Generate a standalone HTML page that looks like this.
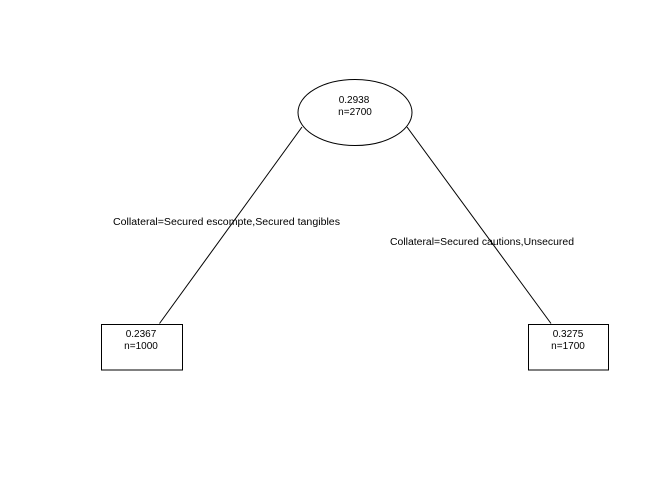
<!DOCTYPE html>
<html><head><meta charset="utf-8"><style>
html,body{margin:0;padding:0;background:#fff;}
svg{display:block;}
text{font-family:"Liberation Sans",Arial,sans-serif;font-size:10px;fill:#000;}
</style></head><body>
<svg width="672" height="480" viewBox="0 0 672 480" xmlns="http://www.w3.org/2000/svg">
<rect width="672" height="480" fill="#fff"/>
<g stroke="#000" stroke-width="1" fill="none">
<ellipse cx="355" cy="112.5" rx="57" ry="33"/>
<line x1="302" y1="127" x2="159.5" y2="323.5"/>
<line x1="407" y1="127" x2="551" y2="323.5"/>
<rect x="101.5" y="324.5" width="81" height="45.5"/>
<rect x="528.5" y="324.5" width="80" height="45.5"/>
</g>
<g text-anchor="middle">
<text x="354" y="103">0.2938</text>
<text x="355" y="115">n=2700</text>
<text x="141" y="337">0.2367</text>
<text x="141" y="349">n=1000</text>
<text x="568" y="337">0.3275</text>
<text x="568" y="349">n=1700</text>
</g>
<text x="113" y="225" textLength="227" lengthAdjust="spacingAndGlyphs">Collateral=Secured escompte,Secured tangibles</text>
<text x="390" y="245" textLength="184" lengthAdjust="spacingAndGlyphs">Collateral=Secured cautions,Unsecured</text>
</svg>
</body></html>
